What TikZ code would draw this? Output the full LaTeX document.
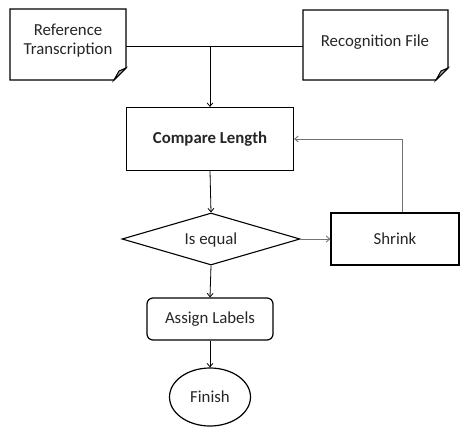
\documentclass[tikz,border=0pt]{standalone}
\usepackage{fontspec}
\setmainfont{Carlito}
\usetikzlibrary{arrows.meta,shapes.geometric,calc}
\begin{document}
\begin{tikzpicture}[x=1pt,y=-1pt,
  every node/.style={font=\fontsize{16.8}{19}\selectfont, text=black!85},
  boxline/.style={draw=black, line width=1.2pt},
  conn/.style={draw=black, line width=0.8pt},
  gconn/.style={draw=black!55, line width=0.9pt},
  arr/.style={-{Straight Barb[length=3.5pt,width=6pt]}}]
\useasboundingbox (0,0) rectangle (460,426);
% document shapes
\newcommand{\docshape}[4]{% x1,y1,x2,y2
  \draw[boxline, fill=white] (#1,#2) -- (#3,#2) -- (#3,#4-12) -- (#3-12,#4) -- (#1,#4) -- cycle;
  \draw[line width=1pt, fill=black!35] (#3,#4-12) -- (#3-7,#4-9) -- (#3-12,#4) -- cycle;
}
\docshape{10}{9}{126}{80}
\docshape{303}{10}{448}{80}
\node[align=center, inner sep=0] (ref) at (68,41) {Reference\\Transcription};
\node[inner sep=0] (rec) at (375,42) {Recognition File};
\coordinate (refR) at (126,46);
\coordinate (recL) at (303,46);
\coordinate (join) at (210,46);
\node[boxline, minimum width=167pt, minimum height=63pt, inner sep=0] (cmp) at (210,139) {\textbf{Compare Length}};
\node[boxline, diamond, aspect=3.42, minimum width=178pt, minimum height=52pt, inner sep=0, line width=1.1pt] (eq) at (211,239) {};
\node at (211,240) {Is equal};
\node[boxline, minimum width=128pt, minimum height=52pt, inner sep=0] (shr) at (395,239) {Shrink};
\node[boxline, rounded corners=6pt, minimum width=126pt, minimum height=42pt, inner sep=0] (asg) at (210,319) {Assign Labels};
\node[boxline, ellipse, minimum width=81pt, minimum height=58pt, inner sep=0] (fin) at (210,397) {Finish};
% connectors
\draw[conn] (refR) -- (recL);
\draw[conn, arr] (join) -- (cmp.north);
\draw[conn, arr] (cmp.south) -- (eq.north);
\draw[gconn, arr] (eq.east) -- (shr.west);
\draw[gconn, arr] (shr.north -| 402,0) |- (cmp.east);
\draw[conn, arr] (eq.south) -- (asg.north);
\draw[conn, arr] (asg.south) -- (fin.north);
\end{tikzpicture}
\end{document}
